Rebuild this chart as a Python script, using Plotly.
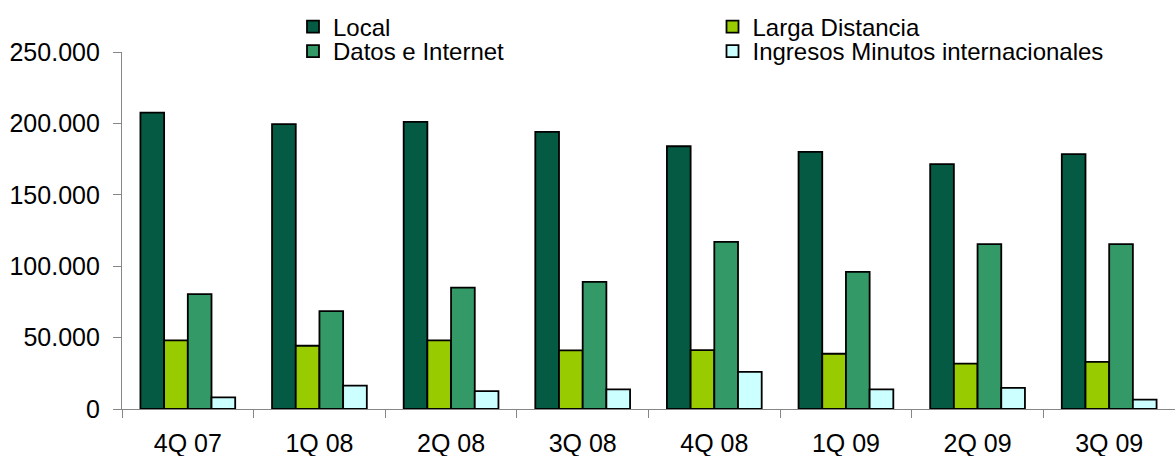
import plotly.graph_objects as go

categories = ["4Q 07", "1Q 08", "2Q 08", "3Q 08", "4Q 08", "1Q 09", "2Q 09", "3Q 09"]
local = [207500, 199500, 201000, 194000, 184000, 180000, 171500, 178500]
larga_distancia = [48000, 44300, 48000, 41000, 41200, 38700, 31800, 33000]
datos_internet = [80500, 68500, 85000, 89000, 117000, 96000, 115500, 115500]
ingresos_intl = [8200, 16400, 12500, 13700, 26000, 13700, 14800, 6500]

series = [
    ("Local", local, "#045a43", "legend"),
    ("Larga Distancia", larga_distancia, "#99cc00", "legend2"),
    ("Datos e Internet", datos_internet, "#339966", "legend3"),
    ("Ingresos Minutos internacionales", ingresos_intl, "#ccffff", "legend4"),
]

FONT = "Liberation Sans, Arial, sans-serif"
W, H = 1175, 456

fig = go.Figure()
for name, vals, color, lg in series:
    fig.add_trace(go.Bar(
        x=categories, y=vals, name=name, legend=lg, showlegend=True,
        marker=dict(color=color, line=dict(color="black", width=1.8)),
    ))

def leg(x_px, y_px):
    return dict(
        x=x_px / W, y=1 - y_px / H, xref="container", yref="container",
        xanchor="left", yanchor="middle", orientation="v",
        bgcolor="rgba(0,0,0,0)", borderwidth=0, visible=True,
        font=dict(family=FONT, size=24, color="black"),
    )

fig.update_layout(
    width=W, height=H,
    showlegend=True,
    margin=dict(l=122, r=0, t=52, b=47, autoexpand=False),
    paper_bgcolor="white", plot_bgcolor="white",
    barmode="group", bargap=0.28, bargroupgap=0,
    separators=",.",
    font=dict(family=FONT, size=25, color="black"),
    legend=leg(293, 27),
    legend2=leg(712.5, 27),
    legend3=leg(293, 51.5),
    legend4=leg(712.5, 51.5),
)
fig.update_xaxes(
    showline=True, linecolor="#868686", linewidth=1.3,
    ticks="outside", tickson="boundaries", ticklen=8, tickcolor="#868686", tickwidth=1.3,
    showgrid=False, tickfont=dict(family=FONT, size=25, color="black"),
    ticklabelstandoff=12, tickangle=0, automargin=False,
)
fig.update_yaxes(
    range=[0, 250000], dtick=50000, tickformat=",.0f",
    showline=True, linecolor="#868686", linewidth=1.3,
    ticks="outside", ticklen=8, tickcolor="#868686", tickwidth=1.3,
    showgrid=False, zeroline=False, tickfont=dict(family=FONT, size=25, color="black"),
    ticklabelstandoff=8, automargin=False,
)

fig.write_html(
    "out.html",
    config={"displayModeBar": False},
    post_script="document.body.style.margin='0';document.body.style.overflow='hidden';",
)
